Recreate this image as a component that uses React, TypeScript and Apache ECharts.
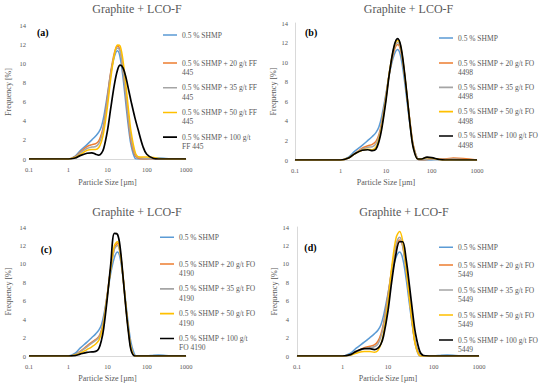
import React, { useEffect, useRef } from "react";
import * as echarts from "echarts";

// ---------- data ----------
const particleSize = [0.1, 1, 1.5, 2, 3, 4, 5, 6, 7, 8, 10, 12, 15, 18, 21, 25, 30, 35, 40, 50, 60, 80, 100, 150, 200, 300, 500, 1000];

const shmp = [0, 0, 0.3, 0.85, 1.5, 2.0, 2.4, 2.8, 3.4, 4.4, 6.8, 8.9, 10.7, 11.3, 10.6, 8.4, 5.4, 3.0, 1.4, 0.1, 0, 0, 0, 0.08, 0.1, 0.06, 0, 0];

// (a) FF 445
const ff445_20 = [0, 0, 0.25, 0.7, 1.3, 1.5, 1.6, 1.9, 2.6, 3.6, 6.5, 9.0, 11.1, 11.8, 11.3, 9.2, 6.2, 3.6, 1.8, 0.4, 0.1, 0, 0, 0, 0, 0, 0, 0];
const ff445_35 = [0, 0, 0.2, 0.6, 1.1, 1.25, 1.3, 1.6, 2.3, 3.3, 6.1, 8.7, 10.9, 11.6, 11.3, 9.4, 6.5, 4.0, 2.2, 0.6, 0.2, 0.1, 0.05, 0, 0, 0, 0, 0];
const ff445_50 = [0, 0, 0.15, 0.45, 0.9, 1.0, 1.0, 1.2, 1.8, 2.8, 5.5, 8.3, 10.9, 11.9, 11.8, 10.2, 7.4, 4.8, 2.8, 0.8, 0.25, 0.2, 0.2, 0.15, 0.05, 0, 0, 0];
const ff445_100 = [0, 0, 0.1, 0.35, 0.6, 0.65, 0.5, 0.4, 0.6, 1.1, 3.0, 5.2, 7.8, 9.3, 9.8, 9.5, 8.4, 7.1, 6.0, 4.3, 3.1, 1.3, 0.5, 0.05, 0, 0, 0, 0];

// (b) FO 4498
const fo4498_20 = [0, 0, 0.2, 0.6, 1.2, 1.45, 1.6, 1.9, 2.6, 3.8, 6.6, 9.0, 11.1, 11.8, 11.2, 9.0, 5.9, 3.3, 1.5, 0.1, 0, 0.05, 0.1, 0.1, 0.1, 0.2, 0.15, 0];
const fo4498_35 = [0, 0, 0.2, 0.6, 1.1, 1.3, 1.35, 1.65, 2.4, 3.6, 6.5, 9.1, 11.3, 12.0, 11.4, 9.1, 5.9, 3.2, 1.4, 0.1, 0, 0.1, 0.1, 0.05, 0.05, 0.1, 0.05, 0];
const fo4498_50 = [0, 0, 0.2, 0.6, 1.0, 1.1, 1.05, 1.3, 2.1, 3.3, 6.3, 9.1, 11.5, 12.2, 11.6, 9.2, 5.9, 3.1, 1.3, 0.1, 0.1, 0.25, 0.2, 0.05, 0, 0, 0, 0];
const fo4498_100 = [0, 0, 0.2, 0.6, 1.0, 1.05, 0.95, 1.1, 1.9, 3.1, 6.1, 9.0, 11.6, 12.4, 11.7, 9.3, 5.9, 3.0, 1.2, 0.1, 0.1, 0.3, 0.25, 0.05, 0, 0, 0, 0];

// (c) FO 4190
const fo4190_20 = [0, 0, 0.15, 0.5, 1.1, 1.5, 1.8, 2.1, 2.8, 3.9, 6.9, 9.4, 11.7, 12.2, 11.2, 8.5, 5.0, 2.5, 0.9, 0, 0, 0, 0, 0, 0, 0, 0, 0];
const fo4190_35 = [0, 0, 0.15, 0.45, 1.0, 1.4, 1.7, 2.0, 2.7, 3.8, 6.8, 9.3, 11.6, 12.0, 11.1, 8.4, 5.0, 2.5, 0.9, 0, 0, 0, 0, 0, 0, 0, 0, 0];
const fo4190_50 = [0, 0, 0.1, 0.3, 0.7, 1.0, 1.3, 1.7, 2.5, 3.6, 6.7, 9.4, 12.0, 12.4, 11.3, 8.5, 5.0, 2.4, 0.8, 0, 0, 0, 0, 0, 0, 0, 0, 0];
const fo4190_100 = [0, 0, 0.05, 0.2, 0.4, 0.45, 0.5, 0.8, 1.7, 3.0, 6.5, 9.8, 13.3, 13.2, 11.8, 8.5, 4.8, 2.2, 0.6, 0, 0, 0, 0, 0, 0, 0, 0, 0];

// (d) FO 5449
const fo5449_20 = [0, 0, 0.15, 0.45, 0.9, 1.05, 1.2, 1.6, 2.4, 3.6, 6.6, 9.3, 11.8, 12.6, 11.9, 9.4, 6.0, 3.2, 1.3, 0.05, 0, 0, 0, 0, 0, 0, 0, 0];
const fo5449_35 = [0, 0, 0.1, 0.4, 0.8, 0.9, 1.0, 1.3, 2.1, 3.3, 6.3, 9.3, 12.1, 12.9, 12.0, 9.3, 5.9, 3.1, 1.2, 0, 0, 0, 0, 0, 0, 0, 0, 0];
const fo5449_50 = [0, 0, 0.1, 0.3, 0.5, 0.5, 0.4, 0.6, 1.3, 2.5, 5.8, 9.5, 12.8, 13.5, 12.5, 9.6, 6.0, 3.2, 1.2, 0.05, 0, 0, 0, 0, 0, 0, 0, 0];
const fo5449_100 = [0, 0, 0.15, 0.5, 0.8, 0.8, 0.7, 0.85, 1.3, 2.2, 4.9, 8.0, 11.1, 12.4, 12.4, 10.5, 7.4, 4.6, 2.5, 0.5, 0.05, 0, 0, 0, 0, 0, 0, 0];

const chartTitle = "Graphite + LCO-F";
const panelLetters = ["(a)", "(b)", "(c)", "(d)"];
const baseName = "0.5 % SHMP";
const namesA = ["0.5 % SHMP + 20 g/t FF\n445", "0.5 % SHMP + 35 g/t FF\n445", "0.5 % SHMP + 50 g/t FF\n445", "0.5 % SHMP + 100 g/t\nFF 445"];
const namesB = ["0.5 % SHMP + 20 g/t FO\n4498", "0.5 % SHMP + 35 g/t FO\n4498", "0.5 % SHMP + 50 g/t FO\n4498", "0.5 % SHMP + 100 g/t FO\n4498"];
const namesC = ["0.5 % SHMP + 20 g/t FO\n4190", "0.5 % SHMP + 35 g/t FO\n4190", "0.5 % SHMP + 50 g/t FO\n4190", "0.5 % SHMP + 100 g/t\nFO 4190"];
const namesD = ["0.5 % SHMP + 20 g/t FO\n5449", "0.5 % SHMP + 35 g/t FO\n5449", "0.5 % SHMP + 50 g/t FO\n5449", "0.5 % SHMP + 100 g/t FO\n5449"];
const xName = "Particle Size [µm]";
const yName = "Frequency [%]";
const yMax = 14;
const yStep = 2;

const colors = ["#5B9BD5", "#ED7D31", "#A5A5A5", "#FFC000", "#000000"];
const FONT = "Liberation Serif, DejaVu Serif, serif";
const TEXT = "#595959";

const panelData = [
  { names: namesA, values: [ff445_20, ff445_35, ff445_50, ff445_100] },
  { names: namesB, values: [fo4498_20, fo4498_35, fo4498_50, fo4498_100] },
  { names: namesC, values: [fo4190_20, fo4190_35, fo4190_50, fo4190_100] },
  { names: namesD, values: [fo5449_20, fo5449_35, fo5449_50, fo5449_100] },
];

const layouts = [
  { grid: { left: 29, top: 25, width: 157, height: 134 }, cx: 137, titleTop: 3.3, letter: [37, 32.3], lgLeft: 163, lgTopA: 30.3, lgTopB: 58.3, gapB: 5.7, yLine: false, yLabelMargin: 3, yNameGap: 16.5, xNameGap: 19 },
  { grid: { left: 295, top: 23, width: 182, height: 137 }, cx: 408.5, titleTop: 3.3, letter: [305, 32.3], lgLeft: 439, lgTopA: 33.3, lgTopB: 58.3, gapB: 5.3, yLine: true, yLabelMargin: 7, yNameGap: 8, xNameGap: 18 },
  { grid: { left: 29, top: 227, width: 157, height: 129 }, cx: 137, titleTop: 206.3, letter: [40.7, 249], lgLeft: 160, lgTopA: 232.5, lgTopB: 259.3, gapB: 5.8, yLine: false, yLabelMargin: 3, yNameGap: 16.5, xNameGap: 18 },
  { grid: { left: 297, top: 227, width: 182, height: 129 }, cx: 404, titleTop: 206.3, letter: [304.3, 247.3], lgLeft: 439, lgTopA: 242.5, lgTopB: 260.3, gapB: 6, yLine: true, yLabelMargin: 8, yNameGap: 15.5, xNameGap: 18 },
];

const ICON_TOP_LINE = "path://M0,0L14,0L14,0.01L0,0.01Z M0,3.95L14,3.95L14,5.55L0,5.55Z M0,18.99L14,18.99L14,19L0,19Z";
const ICON_MID_LINE = "path://M0,0L14,0L14,0.01L0,0.01Z M0,3.95L14,3.95L14,5.55L0,5.55Z M0,9.49L14,9.49L14,9.5L0,9.5Z";

function buildOption() {
  const grid: any[] = [];
  const xAxis: any[] = [];
  const yAxis: any[] = [];
  const title: any[] = [];
  const legend: any[] = [];
  const series: any[] = [];
  const graphic: any[] = [];

  layouts.forEach((L, i) => {
    grid.push({ ...L.grid, containLabel: false });
    xAxis.push({
      type: "log",
      logBase: 10,
      min: 0.1,
      max: 1000,
      gridIndex: i,
      axisLine: { show: true, lineStyle: { color: "#d9d9d9", width: 1 } },
      axisTick: { show: false },
      splitLine: { show: false },
      axisLabel: {
        color: TEXT,
        fontSize: 6.5,
        fontFamily: FONT,
        margin: 7,
        formatter: (v: number) => String(parseFloat(Number(v).toPrecision(6))),
      },
      name: xName,
      nameLocation: "middle",
      nameGap: L.xNameGap,
      nameTextStyle: { color: TEXT, fontSize: 8, fontFamily: FONT },
    });
    yAxis.push({
      type: "value",
      min: 0,
      max: yMax,
      interval: yStep,
      gridIndex: i,
      axisLine: { show: L.yLine, lineStyle: { color: "#d9d9d9", width: 1 } },
      axisTick: { show: false },
      splitLine: { show: false },
      axisLabel: { color: TEXT, fontSize: 6.5, fontFamily: FONT, margin: L.yLabelMargin },
      name: yName,
      nameLocation: "middle",
      nameRotate: 90,
      nameGap: L.yNameGap,
      nameTextStyle: { color: TEXT, fontSize: 8, fontFamily: FONT },
    });
    title.push({
      text: chartTitle,
      left: L.cx,
      top: L.titleTop,
      textAlign: "center",
      padding: 0,
      textStyle: { color: TEXT, fontSize: 12, fontWeight: "normal", fontFamily: FONT },
    });
    graphic.push({
      type: "text",
      x: L.letter[0],
      y: L.letter[1],
      style: {
        text: panelLetters[i],
        fill: "#000",
        fontSize: 10,
        fontWeight: "bold",
        fontFamily: FONT,
        verticalAlign: "middle",
      },
    });

    const pd = panelData[i];
    const allNames = [baseName, ...pd.names];
    const allVals = [shmp, ...pd.values];
    allNames.forEach((nm, k) => {
      series.push({
        type: "line",
        name: nm,
        xAxisIndex: i,
        yAxisIndex: i,
        data: particleSize.map((x, j) => [x, allVals[k][j]]),
        smooth: 0.35,
        symbol: "none",
        showSymbol: false,
        color: colors[k],
        lineStyle: { color: colors[k], width: k === 4 ? 1.7 : 1.5 },
        z: 2 + k,
      });
    });

    const txt = { color: TEXT, fontSize: 7.5, lineHeight: 9.5, fontFamily: FONT };
    legend.push({
      data: [baseName],
      orient: "vertical",
      left: L.lgLeft,
      top: L.lgTopA,
      padding: 0,
      itemWidth: 14,
      itemHeight: 9.5,
      icon: ICON_MID_LINE,
      itemStyle: { borderWidth: 0 },
      selectedMode: false,
      textStyle: txt,
    });
    legend.push({
      data: pd.names,
      orient: "vertical",
      left: L.lgLeft,
      top: L.lgTopB,
      padding: 0,
      itemWidth: 14,
      itemHeight: 19,
      itemGap: L.gapB,
      icon: ICON_TOP_LINE,
      itemStyle: { borderWidth: 0 },
      selectedMode: false,
      textStyle: txt,
    });
  });

  return {
    animation: false,
    backgroundColor: "#ffffff",
    title,
    grid,
    xAxis,
    yAxis,
    legend,
    series,
    graphic,
  };
}

export default function App() {
  const ref = useRef<HTMLDivElement>(null);
  useEffect(() => {
    document.body.style.margin = "0";
    if (!ref.current) return;
    const chart = echarts.init(ref.current, undefined, { renderer: "svg" });
    chart.setOption(buildOption() as any);
    return () => chart.dispose();
  }, []);
  return <div ref={ref} style={{ width: 550, height: 388 }} />;
}
